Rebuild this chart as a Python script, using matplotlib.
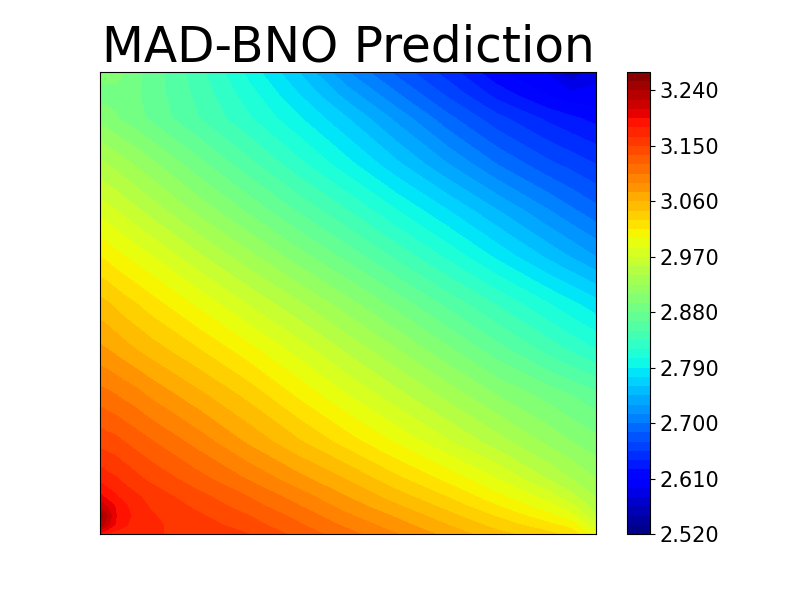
import numpy as np
import matplotlib
matplotlib.use("Agg")
import matplotlib.pyplot as plt

# values, rows go bottom to top
# grid is denser near the corners where the field bends
x = [0.0, 0.015, 0.03, 0.045, 0.06, 0.08, 0.1, 0.2, 0.3, 0.4, 0.5, 0.6, 0.7, 0.8, 0.9, 0.95, 1.0]
y = [0.0, 0.02, 0.04, 0.06, 0.08, 0.12, 0.2, 0.3, 0.4, 0.5, 0.6, 0.7, 0.8, 0.9, 0.95, 1.0]
z = [
    [3.190, 3.178, 3.172, 3.170, 3.169, 3.168, 3.167, 3.160, 3.150, 3.130, 3.110, 3.090, 3.070, 3.050, 3.035, 3.025, 2.990],
    [3.235, 3.215, 3.195, 3.185, 3.178, 3.173, 3.168, 3.157, 3.142, 3.122, 3.101, 3.081, 3.060, 3.039, 3.020, 3.008, 2.972],
    [3.250, 3.225, 3.197, 3.187, 3.181, 3.174, 3.167, 3.152, 3.135, 3.115, 3.092, 3.072, 3.050, 3.028, 3.005, 2.990, 2.955],
    [3.222, 3.208, 3.195, 3.185, 3.178, 3.171, 3.164, 3.146, 3.127, 3.106, 3.083, 3.062, 3.040, 3.016, 2.992, 2.975, 2.947],
    [3.200, 3.190, 3.183, 3.176, 3.171, 3.166, 3.160, 3.140, 3.120, 3.098, 3.075, 3.052, 3.030, 3.005, 2.980, 2.960, 2.940],
    [3.175, 3.170, 3.167, 3.162, 3.158, 3.152, 3.147, 3.125, 3.103, 3.080, 3.058, 3.033, 3.010, 2.985, 2.955, 2.940, 2.925],
    [3.145, 3.142, 3.140, 3.136, 3.132, 3.127, 3.122, 3.098, 3.072, 3.047, 3.022, 2.997, 2.972, 2.947, 2.922, 2.910, 2.900],
    [3.112, 3.109, 3.106, 3.102, 3.099, 3.094, 3.088, 3.064, 3.040, 3.012, 2.985, 2.960, 2.935, 2.910, 2.890, 2.880, 2.870],
    [3.078, 3.075, 3.071, 3.067, 3.063, 3.058, 3.053, 3.030, 3.005, 2.978, 2.951, 2.925, 2.898, 2.871, 2.845, 2.832, 2.820],
    [3.050, 3.046, 3.042, 3.037, 3.033, 3.028, 3.022, 2.995, 2.968, 2.942, 2.915, 2.888, 2.860, 2.833, 2.806, 2.793, 2.780],
    [3.015, 3.011, 3.006, 3.002, 2.998, 2.992, 2.987, 2.958, 2.930, 2.902, 2.875, 2.846, 2.817, 2.787, 2.758, 2.744, 2.730],
    [2.980, 2.975, 2.971, 2.966, 2.962, 2.956, 2.950, 2.920, 2.892, 2.863, 2.835, 2.805, 2.776, 2.746, 2.717, 2.703, 2.690],
    [2.945, 2.940, 2.936, 2.931, 2.927, 2.921, 2.915, 2.885, 2.855, 2.825, 2.795, 2.763, 2.731, 2.700, 2.675, 2.665, 2.655],
    [2.905, 2.901, 2.897, 2.893, 2.889, 2.884, 2.878, 2.850, 2.822, 2.792, 2.760, 2.725, 2.690, 2.660, 2.637, 2.628, 2.620],
    [2.890, 2.890, 2.890, 2.887, 2.884, 2.880, 2.875, 2.845, 2.812, 2.776, 2.738, 2.702, 2.668, 2.635, 2.610, 2.600, 2.600],
    [2.900, 2.900, 2.900, 2.897, 2.890, 2.882, 2.875, 2.840, 2.800, 2.760, 2.715, 2.680, 2.648, 2.613, 2.594, 2.568, 2.590],
]
cbar_ticks = [2.52, 2.61, 2.70, 2.79, 2.88, 2.97, 3.06, 3.15, 3.24]

levels = np.linspace(2.52, 3.27, 51)

fig, ax = plt.subplots(figsize=(8, 6), dpi=100)
cf = ax.contourf(x, y, z, levels=levels, cmap="jet")
ax.set_xticks([])
ax.set_yticks([])
ax.set_title("MAD-BNO Prediction", fontsize=35)

cbar = fig.colorbar(cf, ax=ax, ticks=cbar_ticks, format="%.3f")
cbar.ax.tick_params(labelsize=15)

plt.savefig("out.png")
